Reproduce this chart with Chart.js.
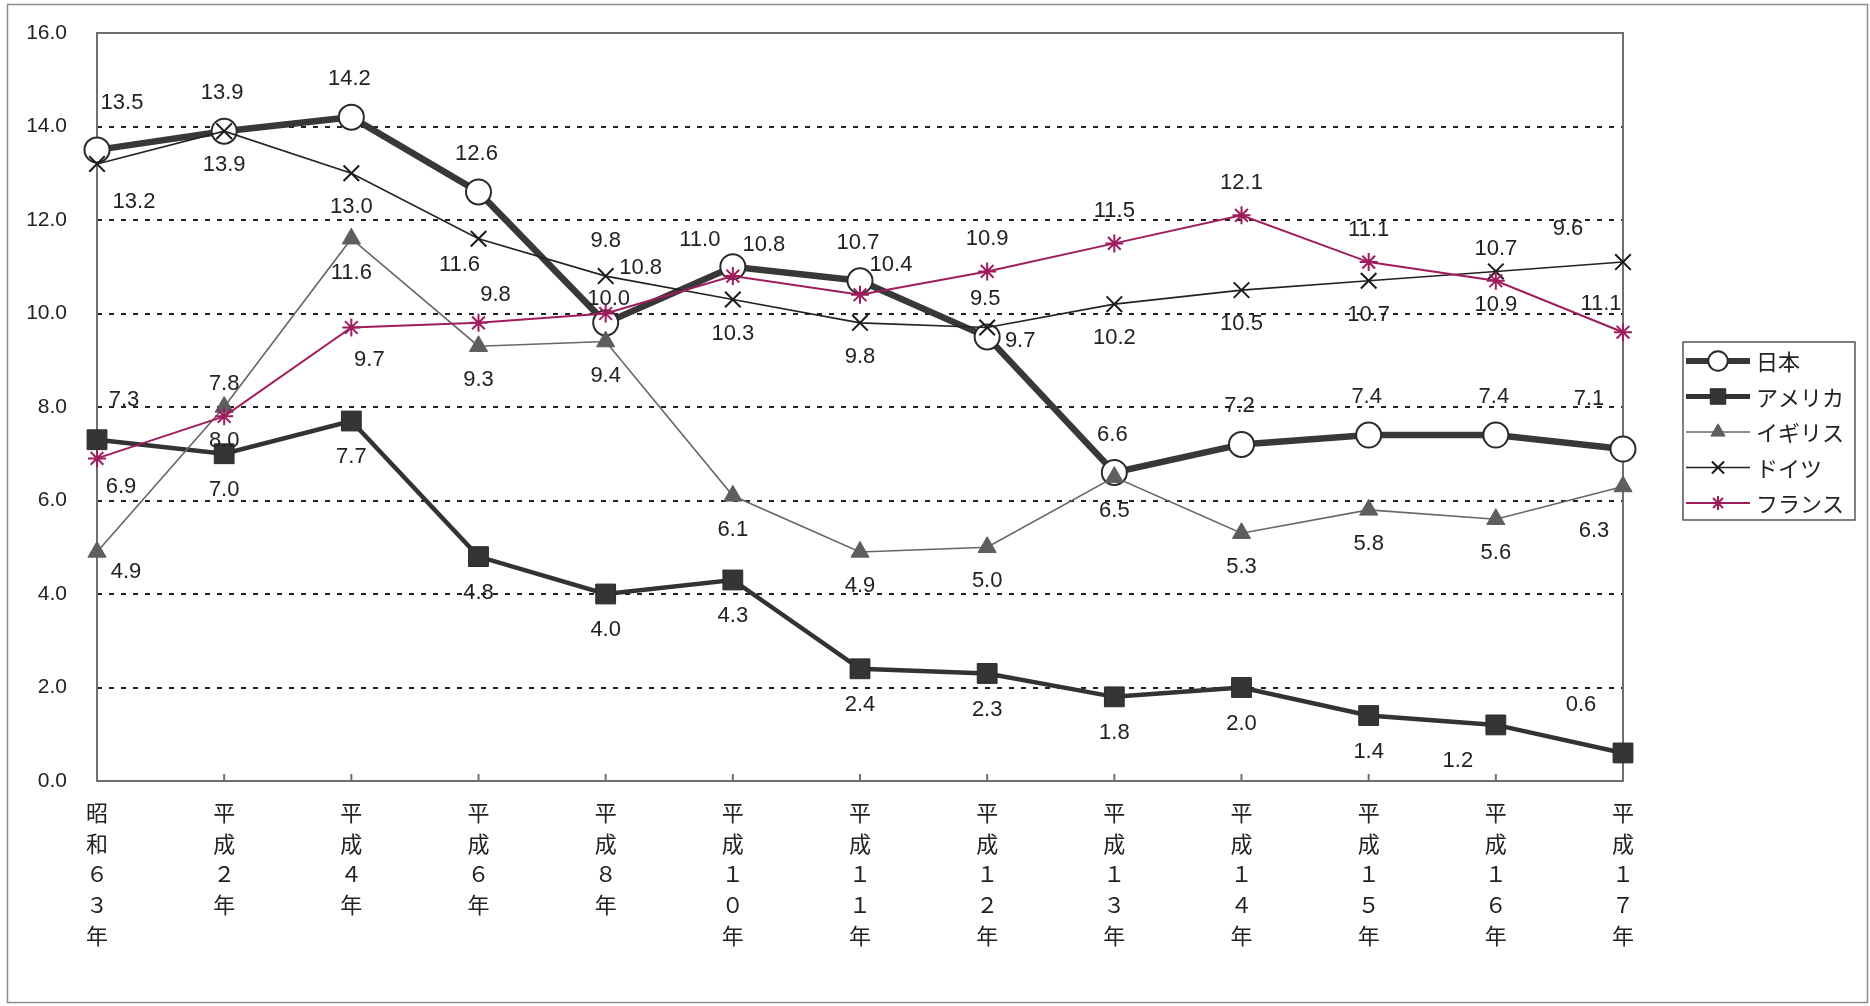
<!DOCTYPE html>
<html lang="ja">
<head>
  <meta charset="UTF-8">
  <title>主要国の推移</title>
  <script src="https://cdn.jsdelivr.net/npm/chart.js"></script>
  <style>
    html, body { margin: 0; padding: 0; background: #fff; }
    canvas { display: block; }
  </style>
</head>
<body>
  <canvas id="chart" width="1870" height="1006"></canvas>

  <script>
    // categories (x axis), one label per year
    const categories = ['昭和６３年', '平成２年', '平成４年', '平成６年', '平成８年', '平成１０年', '平成１１年',
      '平成１２年', '平成１３年', '平成１４年', '平成１５年', '平成１６年', '平成１７年'];

    // series values
    const japan   = [13.5, 13.9, 14.2, 12.6, 9.8, 11.0, 10.7, 9.5, 6.6, 7.2, 7.4, 7.4, 7.1];
    const usa     = [7.3, 7.0, 7.7, 4.8, 4.0, 4.3, 2.4, 2.3, 1.8, 2.0, 1.4, 1.2, 0.6];
    const uk      = [4.9, 8.0, 11.6, 9.3, 9.4, 6.1, 4.9, 5.0, 6.5, 5.3, 5.8, 5.6, 6.3];
    const germany = [13.2, 13.9, 13.0, 11.6, 10.8, 10.3, 9.8, 9.7, 10.2, 10.5, 10.7, 10.9, 11.1];
    const france  = [6.9, 7.8, 9.7, 9.8, 10.0, 10.8, 10.4, 10.9, 11.5, 12.1, 11.1, 10.7, 9.6];

    // y axis ticks
    const yTicks = [0, 2, 4, 6, 8, 10, 12, 14, 16];

    // where each value label sits relative to its point: default [dx, dy] and exceptions by index
    const labelPlace = {
      '日本':     { def: [-2, -38], at: { 0: [25, -47], 4: [0, -82], 5: [-33, -27], 12: [-34, -50] } },
      'アメリカ': { def: [0, 36],   at: { 0: [27, -40], 11: [-38, 36], 12: [-42, -48] } },
      'イギリス': { def: [0, 34],   at: { 0: [29, 20], 12: [-29, 44] } },
      'ドイツ':   { def: [0, 34],   at: { 0: [37, 38], 3: [-19, 26], 4: [35, -8], 7: [33, 13], 12: [-22, 42] } },
      'フランス': { def: [0, -32],  at: { 0: [24, 29], 2: [18, 32], 3: [17, -28], 4: [3, -15], 5: [31, -31], 6: [31, -30], 12: [-55, -103] } }
    };

    const labelFont = '22px "Liberation Sans", Arial, sans-serif';
    const cjkFont = '"Noto Sans CJK JP", "Noto Sans", sans-serif';

    const frame = {
      id: 'frame',
      beforeDraw(chart) {
        const c = chart.ctx;
        c.save();
        c.fillStyle = '#fff';
        c.fillRect(0, 0, chart.width, chart.height);
        c.strokeStyle = '#8c8c8c';
        c.lineWidth = 1.5;
        c.strokeRect(7.5, 4.5, chart.width - 10, chart.height - 8);
        c.restore();
      },
      beforeDatasetsDraw(chart) {
        const a = chart.chartArea, c = chart.ctx, xs = chart.scales.x;
        c.save();
        c.strokeStyle = '#707070';
        c.lineWidth = 2;
        c.strokeRect(a.left, a.top, a.right - a.left, a.bottom - a.top);
        c.beginPath();
        for (let i = 0; i < categories.length; i++) {
          const x = xs.getPixelForTick(i);
          c.moveTo(x, a.bottom);
          c.lineTo(x, a.bottom - 7);
        }
        c.stroke();
        c.restore();
      }
    };

    const valueLabels = {
      id: 'valueLabels',
      afterDatasetsDraw(chart) {
        const c = chart.ctx;
        c.save();
        c.font = labelFont;
        c.fillStyle = '#222';
        c.textAlign = 'center';
        c.textBaseline = 'middle';
        chart.data.datasets.forEach((ds, i) => {
          const meta = chart.getDatasetMeta(i);
          const place = labelPlace[ds.label];
          meta.data.forEach((pt, j) => {
            const off = place.at[j] || place.def;
            c.fillText(ds.data[j].toFixed(1), pt.x + off[0], pt.y + off[1]);
          });
        });
        c.restore();
      }
    };

    const sideLegend = {
      id: 'sideLegend',
      afterDraw(chart) {
        const c = chart.ctx;
        const box = { x: 1683, y: 342, w: 172, h: 178 };
        c.save();
        c.fillStyle = '#fff';
        c.fillRect(box.x, box.y, box.w, box.h);
        c.strokeStyle = '#555';
        c.lineWidth = 1.5;
        c.strokeRect(box.x, box.y, box.w, box.h);
        c.font = '22px ' + cjkFont;
        c.textBaseline = 'middle';
        chart.data.datasets.forEach((ds, i) => {
          const y = 361 + i * 35.5;
          c.strokeStyle = ds.borderColor;
          c.lineWidth = ds.legendLine;
          c.beginPath();
          c.moveTo(1686, y);
          c.lineTo(1750, y);
          c.stroke();
          c.fillStyle = ds.pointBackgroundColor;
          c.strokeStyle = ds.pointBorderColor;
          c.lineWidth = ds.pointBorderWidth;
          Chart.helpers.drawPoint(c, {
            pointStyle: ds.pointStyle,
            radius: ds.pointRadius * 0.78,
            borderWidth: ds.pointBorderWidth,
            rotation: 0
          }, 1718, y);
          c.fillStyle = '#222';
          c.fillText(ds.label, 1756, y + 1);
        });
        c.restore();
      }
    };

    const ctx = document.getElementById('chart').getContext('2d');

    new Chart(ctx, {
      type: 'line',
      data: {
        labels: categories.map(s => Array.from(s)),
        datasets: [
          {
            label: '日本', data: japan, order: 5,
            borderColor: '#383838', borderWidth: 6.5, legendLine: 6,
            pointStyle: 'circle', pointRadius: 12.5, pointBorderWidth: 2,
            pointBackgroundColor: '#fff', pointBorderColor: '#2a2a2a'
          },
          {
            label: 'アメリカ', data: usa, order: 4,
            borderColor: '#333', borderWidth: 4.5, legendLine: 5,
            pointStyle: 'rect', pointRadius: 14, pointBorderWidth: 1,
            pointBackgroundColor: '#353535', pointBorderColor: '#2a2a2a'
          },
          {
            label: 'イギリス', data: uk, order: 3,
            borderColor: '#666', borderWidth: 1.6, legendLine: 1.6,
            pointStyle: 'triangle', pointRadius: 10.5, pointBorderWidth: 1,
            pointBackgroundColor: '#5e5e5e', pointBorderColor: '#5e5e5e'
          },
          {
            label: 'ドイツ', data: germany, order: 2,
            borderColor: '#222', borderWidth: 1.6, legendLine: 1.6,
            pointStyle: 'crossRot', pointRadius: 11, pointBorderWidth: 2,
            pointBackgroundColor: '#222', pointBorderColor: '#1a1a1a'
          },
          {
            label: 'フランス', data: france, order: 1,
            borderColor: '#a01c5c', borderWidth: 2, legendLine: 2,
            pointStyle: 'star', pointRadius: 9, pointBorderWidth: 2,
            pointBackgroundColor: '#a01c5c', pointBorderColor: '#a01c5c'
          }
        ]
      },
      options: {
        responsive: false,
        animation: false,
        tension: 0,
        layout: { padding: { top: 33, right: 247, bottom: 0, left: 0 } },
        plugins: {
          legend: { display: false },
          tooltip: { enabled: false }
        },
        scales: {
          x: {
            type: 'category',
            offset: false,
            grid: { display: false },
            border: { display: false },
            ticks: {
              autoSkip: false,
              maxRotation: 0,
              minRotation: 0,
              padding: 8,
              color: '#222',
              font: { family: cjkFont, size: 22, lineHeight: 1.4 }
            },
            afterFit(scale) { scale.height = 225; }
          },
          y: {
            min: yTicks[0],
            max: yTicks[yTicks.length - 1],
            afterBuildTicks(scale) { scale.ticks = yTicks.map(v => ({ value: v })); },
            grid: {
              drawTicks: false,
              lineWidth: 2,
              color: c => (c.tick && (c.tick.value === yTicks[0] || c.tick.value === yTicks[yTicks.length - 1])) ? 'rgba(0,0,0,0)' : '#222'
            },
            border: { display: false, dash: [5, 7] },
            ticks: {
              padding: 30,
              color: '#222',
              font: { family: '"Liberation Sans", Arial, sans-serif', size: 21 },
              callback: v => v.toFixed(1)
            },
            afterFit(scale) {
              scale.width = 97;
              scale.paddingTop = 0;
              scale.paddingBottom = 0;
            }
          }
        }
      },
      plugins: [frame, valueLabels, sideLegend]
    });
  </script>
</body>
</html>
